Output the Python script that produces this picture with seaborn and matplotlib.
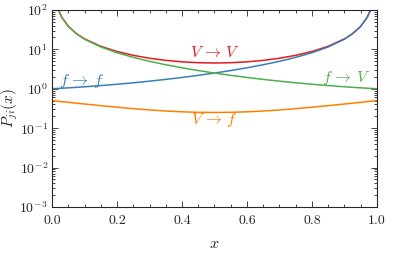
import numpy as np
import pandas as pd
import seaborn as sns
import matplotlib.pyplot as plt
from matplotlib.ticker import MultipleLocator, LogLocator, NullFormatter

# values (x in [0, 1], log y)
x = [0.0, 0.01, 0.02, 0.03, 0.05, 0.075, 0.1, 0.15, 0.2, 0.25, 0.3, 0.35, 0.4, 0.45, 0.5,
     0.55, 0.6, 0.65, 0.7, 0.75, 0.8, 0.85, 0.9, 0.925, 0.95, 0.97, 0.98, 0.99, 1.0]
p_ff = [1.0, 1.010, 1.021, 1.032, 1.055, 1.087, 1.122, 1.203, 1.30, 1.417, 1.557, 1.727, 1.933, 2.186, 2.5,
        2.894, 3.40, 4.064, 4.967, 6.25, 8.2, 11.48, 18.1, 24.74, 38.05, 64.7, 98.0, 198.0, np.nan]
p_fV = [np.nan, 198.0, 98.0, 64.7, 38.05, 24.74, 18.1, 11.48, 8.2, 6.25, 4.967, 4.064, 3.40, 2.894, 2.5,
        2.186, 1.933, 1.727, 1.557, 1.417, 1.30, 1.203, 1.122, 1.087, 1.055, 1.032, 1.021, 1.010, 1.0]
p_VV = [np.nan, 198.0, 98.1, 64.8, 38.2, 24.97, 18.40, 11.94, 8.82, 7.04, 5.94, 5.246, 4.813, 4.576, 4.5,
        4.576, 4.813, 5.246, 5.94, 7.04, 8.82, 11.94, 18.40, 24.97, 38.2, 64.8, 98.1, 198.0, np.nan]
p_Vf = [0.5, 0.490, 0.480, 0.471, 0.4525, 0.4306, 0.41, 0.3725, 0.34, 0.3125, 0.29, 0.2725, 0.26, 0.2525, 0.25,
        0.2525, 0.26, 0.2725, 0.29, 0.3125, 0.34, 0.3725, 0.41, 0.4306, 0.4525, 0.471, 0.480, 0.490, 0.5]

labels = [r"$f\,\to\,f$", r"$V\,\to\,V$", r"$f\,\to\,V$", r"$V\,\to\,f$"]
colors = ["#377eb8", "#e41a1c", "#4daf4a", "#ff7f00"]
label_pos = [(0.09, 1.6), (0.5, 8.4), (0.905, 1.85), (0.5, 0.16)]

sns.set_theme(style="ticks")
plt.rcParams.update({
    "font.family": "serif",
    "font.serif": ["cmr10", "DejaVu Serif"],
    "mathtext.fontset": "cm",
    "axes.formatter.use_mathtext": True,
    "font.size": 10,
    "axes.unicode_minus": False,
})

df = pd.DataFrame({"x": x, "ff": p_ff, "VV": p_VV, "fV": p_fV, "Vf": p_Vf})

fig = plt.figure(figsize=(4.07, 2.54), dpi=100)
ax = fig.add_axes([0.128, 0.185, 0.798, 0.776])

# red first so blue and green sit on top of it
for col, c in zip(["VV", "ff", "fV", "Vf"], [colors[1], colors[0], colors[2], colors[3]]):
    sns.lineplot(data=df, x="x", y=col, color=c, linewidth=1.1, ax=ax)

for lab, c, (tx, ty) in zip(labels, colors, label_pos):
    ax.text(tx, ty, lab, color=c, fontsize=11.5, ha="center", va="center")

ax.set_yscale("log")
ax.set_xlim(0, 1)
ax.set_ylim(1e-3, 1e2)
ax.xaxis.set_major_locator(MultipleLocator(0.2))
ax.xaxis.set_minor_locator(MultipleLocator(0.05))
ax.yaxis.set_major_locator(LogLocator(base=10, numticks=10))
ax.yaxis.set_minor_locator(LogLocator(base=10, subs=np.arange(2, 10), numticks=10))
ax.yaxis.set_minor_formatter(NullFormatter())
ax.tick_params(which="both", direction="in", top=True, right=True, labelsize=10, width=0.6)
ax.tick_params(which="major", length=4)
ax.tick_params(which="minor", length=2)
ax.tick_params(axis="x", which="major", pad=6)
ax.tick_params(axis="y", which="major", pad=3)
ax.set_xticks([0.0, 0.2, 0.4, 0.6, 0.8, 1.0], ["0.0", "0.2", "0.4", "0.6", "0.8", "1.0"])
for s in ax.spines.values():
    s.set_linewidth(0.8)
ax.set_xlabel(r"$x$", fontsize=11.5)
ax.set_ylabel(r"$P_{ji}(x)$", fontsize=11)
ax.xaxis.set_label_coords(0.5, -0.155)
ax.yaxis.set_label_coords(-0.1, 0.5)

fig.savefig("out.png", dpi=100)
